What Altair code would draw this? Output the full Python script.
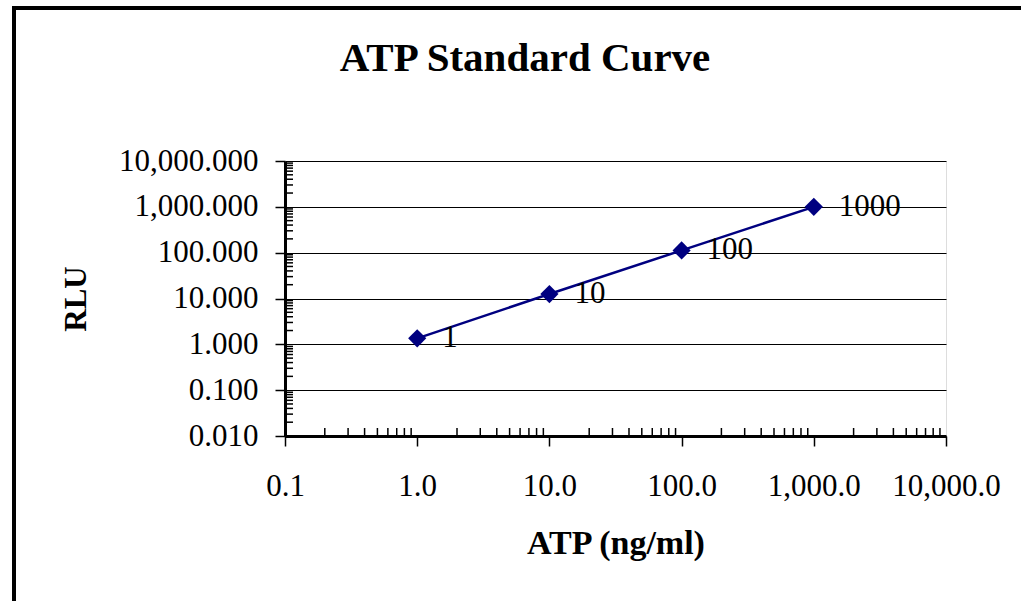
import altair as alt
import pandas as pd

atp = [1, 10, 100, 1000]
rlu = [1.35, 12.5, 112, 1000]
point_labels = ["1", "10", "100", "1000"]
chart_title = ["ATP Standard Curve"]

x_major = [0.1, 1, 10, 100, 1000, 10000]
y_major = [0.01, 0.1, 1, 10, 100, 1000, 10000]
minor_mult = [2, 3, 4, 5, 6, 7, 8, 9]
x_minor = [m * d for d in [0.1, 1, 10, 100, 1000] for m in minor_mult]
y_minor = [m * d for d in [0.01, 0.1, 1, 10, 100, 1000] for m in minor_mult]

df = pd.DataFrame({"atp": atp, "rlu": rlu, "label": point_labels})
dx_minor = pd.DataFrame({"v": x_minor})
dy_minor = pd.DataFrame({"v": y_minor})
dtitle = pd.DataFrame({"t": chart_title})

FONT = "Liberation Serif"
W, H = 661, 275
NAVY = "#000080"

xscale = alt.Scale(type="log", domain=[0.1, 10000], nice=False)
yscale = alt.Scale(type="log", domain=[0.01, 10000], nice=False)

xaxis = alt.Axis(
    values=x_major, format=",.1f", title="ATP (ng/ml)", grid=False,
    labelFont=FONT, labelFontSize=31, labelColor="black", labelPadding=25,
    labelOverlap=False, labelBound=False, labelFlush=False,
    tickSize=10, tickColor="black", tickWidth=1.5,
    domainColor="black", domainWidth=3,
    titleFont=FONT, titleFontSize=34, titleFontWeight="bold", titleColor="black",
    titleBaseline="alphabetic", titleY=117,
)
yaxis = alt.Axis(
    values=y_major, format=",.3f", title="RLU", grid=True,
    gridColor="black", gridOpacity=1, gridWidth=1,
    labelFont=FONT, labelFontSize=31, labelColor="black", labelPadding=17,
    labelOverlap=False, labelBound=False, labelFlush=False,
    tickSize=10, tickColor="black", tickWidth=1.5,
    domainColor="black", domainWidth=3,
    titleFont=FONT, titleFontSize=31, titleFontWeight="bold", titleColor="black",
    titleBaseline="alphabetic", titleX=-200, titleAngle=-90,
)

base = alt.Chart(df)

line = base.mark_line(color=NAVY, strokeWidth=2.5).encode(
    x=alt.X("atp:Q", scale=xscale, axis=xaxis),
    y=alt.Y("rlu:Q", scale=yscale, axis=yaxis),
)
pts = base.mark_point(shape="diamond", filled=True, size=330, color=NAVY, opacity=1).encode(
    x=alt.X("atp:Q", scale=xscale), y=alt.Y("rlu:Q", scale=yscale)
)
txt = base.mark_text(align="left", baseline="middle", dx=25, font=FONT, fontSize=31, color="black").encode(
    x=alt.X("atp:Q", scale=xscale), y=alt.Y("rlu:Q", scale=yscale), text="label:N"
)
xmin = alt.Chart(dx_minor).mark_rule(color="black", strokeWidth=1.5).encode(
    x=alt.X("v:Q", scale=xscale), y=alt.value(H), y2=alt.value(H - 8)
)
ymin = alt.Chart(dy_minor).mark_rule(color="black", strokeWidth=1.5).encode(
    y=alt.Y("v:Q", scale=yscale), x=alt.value(0), x2=alt.value(8)
)
title_txt = alt.Chart(dtitle).mark_text(
    align="center", baseline="alphabetic", font=FONT, fontSize=41, fontWeight="bold", color="black"
).encode(x=alt.value(240), y=alt.value(-90), text="t:N")
border_left = alt.Chart(dtitle).mark_rule(color="black", strokeWidth=4).encode(
    x=alt.value(-271), y=alt.value(-155), y2=alt.value(500)
)
border_top = alt.Chart(dtitle).mark_rule(color="black", strokeWidth=4).encode(
    y=alt.value(-153), x=alt.value(-273), x2=alt.value(900)
)

chart = alt.layer(ymin, xmin, line, pts, txt, title_txt, border_left, border_top).properties(
    width=W, height=H,
    autosize=alt.AutoSizeParams(type="none"),
    padding={"left": 285, "top": 161, "right": 75, "bottom": 165},
).configure_view(stroke="black", strokeWidth=2).configure(background="white")

chart.save("out.html", embed_options={"renderer": "svg", "actions": False})
